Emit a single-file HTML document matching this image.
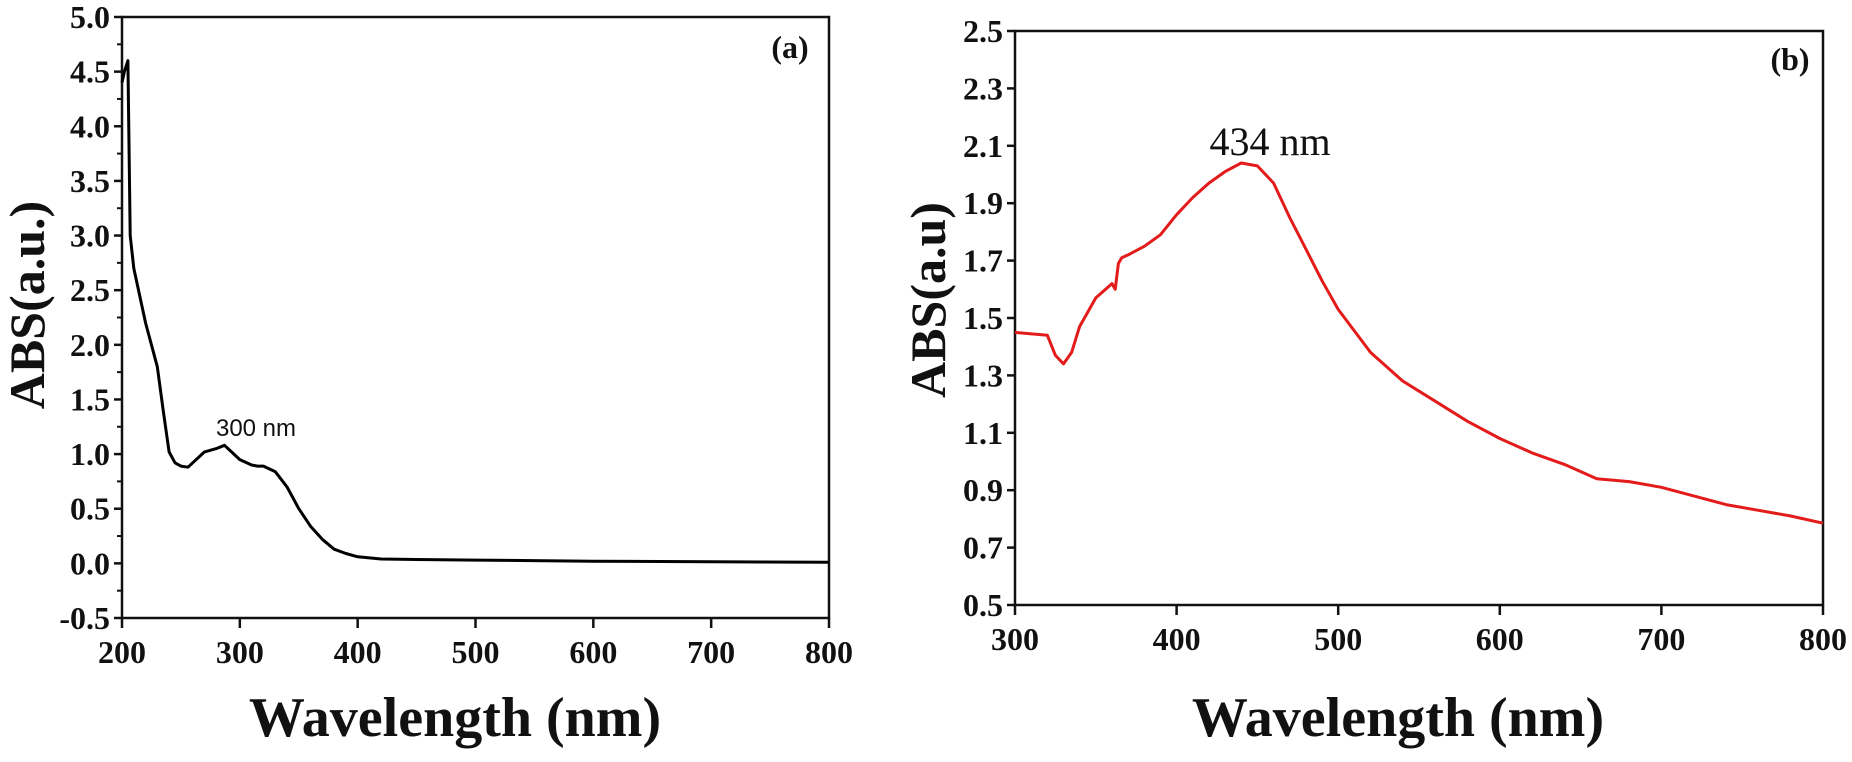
<!DOCTYPE html>
<html><head><meta charset="utf-8"><style>
html,body{margin:0;padding:0;background:#fff;}
svg{display:block;}
text{font-family:"Liberation Serif",serif;font-weight:bold;fill:#111;}
</style></head><body>
<svg id="chart" width="1852" height="762" viewBox="0 0 1852 762"></svg>
<script>
const aWave=[200,202,205,207,210,220,230,235,240,245,250,256,260,270,280,287,295,300,310,315,320,330,340,350,360,370,380,390,400,420,450,500,600,700,800];
const aAbs=[4.4,4.5,4.6,3.0,2.7,2.2,1.8,1.4,1.02,0.92,0.89,0.88,0.92,1.02,1.05,1.08,1.0,0.95,0.9,0.89,0.89,0.84,0.7,0.5,0.34,0.22,0.13,0.09,0.06,0.04,0.035,0.03,0.02,0.015,0.01];
const bWave=[300,320,325,330,335,340,350,360,362,364,366,370,380,390,400,410,420,430,440,450,460,470,480,490,500,520,540,560,580,600,620,640,660,680,700,720,740,760,780,800];
const bAbs=[1.45,1.44,1.37,1.34,1.38,1.47,1.57,1.62,1.60,1.69,1.71,1.72,1.75,1.79,1.86,1.92,1.97,2.01,2.04,2.03,1.97,1.85,1.74,1.63,1.53,1.38,1.28,1.21,1.14,1.08,1.03,0.99,0.94,0.93,0.91,0.88,0.85,0.83,0.81,0.785];
const aYTicks=["-0.5","0.0","0.5","1.0","1.5","2.0","2.5","3.0","3.5","4.0","4.5","5.0"];
const aXTicks=["200","300","400","500","600","700","800"];
const bYTicks=["0.5","0.7","0.9","1.1","1.3","1.5","1.7","1.9","2.1","2.3","2.5"];
const bXTicks=["300","400","500","600","700","800"];

const NS="http://www.w3.org/2000/svg";
const svg=document.getElementById('chart');
function mk(tag,attrs,parent){const e=document.createElementNS(NS,tag);for(const k in attrs)e.setAttribute(k,attrs[k]);(parent||svg).appendChild(e);return e;}

function panel(o){
  const g=mk('g',{});
  
  
  const sx=v=>o.L+(v-o.x0)/(o.x1-o.x0)*(o.R-o.L);
  const sy=v=>o.B-(v-o.y0)/(o.y1-o.y0)*(o.B-o.T);
  const box=mk('rect',{x:o.L,y:o.T,width:o.R-o.L,height:o.B-o.T,fill:'none',stroke:'#111','stroke-width':2.5},g);
  
  
  o.yt.forEach(t=>{const v=parseFloat(t),y=sy(v);
    mk('line',{x1:o.L-8,x2:o.L,y1:y,y2:y,stroke:'#111','stroke-width':2.5},g);
    const tx=mk('text',{x:o.L-12,y:y+11,'text-anchor':'end','font-size':32},g);tx.textContent=t;
    
    
    if(o.minor){const ym=sy(v+o.minor);if(v+o.minor<o.y1)mk('line',{x1:o.L-5,x2:o.L,y1:ym,y2:ym,stroke:'#111','stroke-width':2},g);}
  });
  o.xt.forEach(t=>{const v=parseFloat(t),x=sx(v);
    mk('line',{x1:x,x2:x,y1:o.B,y2:o.B+10,stroke:'#111','stroke-width':2.5},g);
    const tx=mk('text',{x:x,y:o.B+45,'text-anchor':'middle','font-size':32},g);tx.textContent=t;
    
    
  });
  const pts=o.xs.map((x,i)=>sx(x).toFixed(1)+','+sy(o.ys[i]).toFixed(1)).join(' ');
  const pl=mk('polyline',{points:pts,fill:'none',stroke:o.color,'stroke-width':3,'stroke-linejoin':'round'},g);
  
  
  const xt=mk('text',{x:o.xtx,y:736,'text-anchor':'middle','font-size':56},g);xt.textContent='Wavelength (nm)';
  
  
  const yt=mk('text',{x:0,y:0,'text-anchor':'middle','font-size':50,transform:`translate(${o.ytx},${o.yty}) rotate(-90)`},g);yt.textContent=o.ylab;
  
  
  const pn=mk('text',{x:o.plx,y:o.ply,'text-anchor':'middle','font-size':32},g);pn.textContent=o.plabel;
  
  
  const an=mk('text',{x:o.anx,y:o.any,'text-anchor':'middle','font-size':o.anfs,style:o.anstyle},g);an.textContent=o.ann;
  
  
}
panel({name:'panel-a',L:122,R:829,T:17,B:618,x0:200,x1:800,y0:-0.5,y1:5.0,xs:aWave,ys:aAbs,yt:aYTicks,xt:aXTicks,minor:0.25,color:'#000',
  xtx:455,ytx:44,yty:305,ylab:'ABS(a.u.)',plx:790,ply:58,plabel:'(a)',anx:256,any:436,ann:'300 nm',anfs:24,anstyle:'font-family:"Liberation Sans",sans-serif;font-weight:normal'});
panel({name:'panel-b',L:1015,R:1823,T:31,B:605,x0:300,x1:800,y0:0.5,y1:2.5,xs:bWave,ys:bAbs,yt:bYTicks,xt:bXTicks,minor:0,color:'#e31b1b',
  xtx:1398,ytx:945,yty:300,ylab:'ABS(a.u)',plx:1790,ply:70,plabel:'(b)',anx:1270,any:155,ann:'434 nm',anfs:40,anstyle:'font-weight:normal'});
</script>
</body></html>
